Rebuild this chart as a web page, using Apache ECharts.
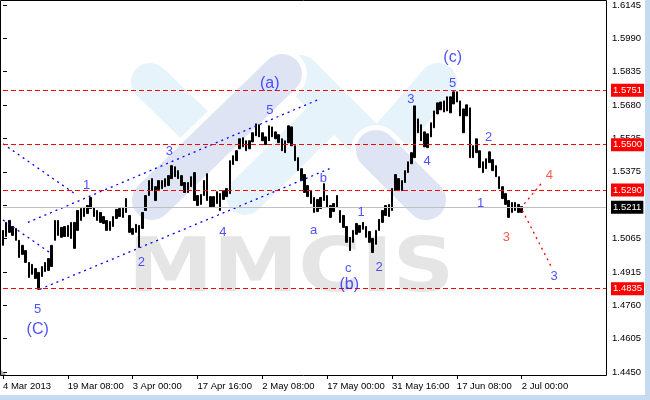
<!DOCTYPE html>
<html><head><meta charset="utf-8">
<script src="https://cdn.jsdelivr.net/npm/echarts@6/dist/echarts.min.js"></script>
<style>html,body{margin:0;padding:0;background:#fff}#c{width:650px;height:400px}</style>
</head><body><div id="c"></div>
<script>
// x-axis tick labels (one every 20 bar slots)
const tickLabels = ['4 Mar 2013','19 Mar 08:00','3 Apr 00:00','17 Apr 16:00','2 May 08:00','17 May 00:00','31 May 16:00','17 Jun 08:00','2 Jul 00:00'];
// right price-axis tick labels
const yTickLabels = ['1.4450','1.4605','1.4760','1.4915','1.5065','1.5220','1.5375','1.5525','1.5680','1.5835','1.5990','1.6145'];
const slotCount = 187;
// bar lows / highs
const lows = [1.5035,1.5076,1.5095,1.5081,1.5058,1.4979,1.4993,1.4956,1.4887,1.4901,1.4882,1.4832,1.4891,1.4914,1.4919,1.4937,1.5058,1.5081,1.5072,1.5076,
1.5076,1.5067,1.5021,1.5104,1.5150,1.5168,1.5182,1.5205,1.5168,1.5150,1.5141,1.5136,1.5104,1.5104,1.5122,1.5159,1.5168,1.5164,1.5187,1.5095,
1.5086,1.5095,1.5026,1.5113,1.5196,1.5265,1.5288,1.5242,1.5293,1.5297,1.5306,1.5311,1.5343,1.5352,1.5343,1.5311,1.5279,1.5279,1.5306,1.5242,
1.5219,1.5224,1.5265,1.5242,1.5210,1.5214,1.5228,1.5196,1.5247,1.5260,1.5274,1.5408,1.5426,1.5481,1.5490,1.5472,1.5481,1.5513,1.5541,1.5536,
1.5518,1.5500,1.5518,1.5536,1.5527,1.5509,1.5472,1.5463,1.5509,1.5495,1.5426,1.5380,1.5334,1.5279,1.5260,1.5228,1.5187,1.5191,1.5205,1.5242,
1.5210,1.5164,1.5191,1.5210,1.5141,1.5118,1.5049,1.5011,1.5049,1.5086,1.5095,1.5109,1.5072,1.5049,1.5002,1.5040,1.5104,1.5141,1.5173,1.5168,
1.5196,1.5288,1.5288,1.5288,1.5325,1.5371,1.5412,1.5440,1.5555,1.5518,1.5490,1.5486,1.5536,1.5578,1.5642,1.5661,1.5651,1.5656,1.5647,1.5688,
1.5697,1.5633,1.5555,1.5633,1.5440,1.5440,1.5463,1.5394,1.5371,1.5389,1.5417,1.5380,1.5352,1.5297,1.5251,1.5224,1.5164,1.5187,1.5196,1.5187,1.5187];
const highs = [1.5104,1.5141,1.5150,1.5122,1.5113,1.5058,1.5035,1.5011,1.4956,1.4947,1.4928,1.4910,1.4937,1.4956,1.4974,1.5035,1.5150,1.5150,1.5118,1.5122,
1.5127,1.5141,1.5141,1.5196,1.5205,1.5210,1.5219,1.5256,1.5210,1.5196,1.5187,1.5168,1.5150,1.5145,1.5168,1.5201,1.5205,1.5210,1.5251,1.5173,
1.5113,1.5132,1.5127,1.5187,1.5265,1.5334,1.5343,1.5306,1.5334,1.5334,1.5343,1.5357,1.5403,1.5398,1.5380,1.5357,1.5325,1.5325,1.5352,1.5371,
1.5265,1.5270,1.5334,1.5366,1.5260,1.5260,1.5283,1.5274,1.5288,1.5297,1.5426,1.5449,1.5472,1.5527,1.5532,1.5518,1.5518,1.5555,1.5596,1.5592,
1.5555,1.5536,1.5587,1.5582,1.5559,1.5546,1.5527,1.5518,1.5587,1.5582,1.5495,1.5440,1.5389,1.5362,1.5311,1.5288,1.5256,1.5247,1.5256,1.5320,
1.5265,1.5219,1.5228,1.5265,1.5196,1.5173,1.5122,1.5072,1.5104,1.5136,1.5127,1.5141,1.5122,1.5099,1.5067,1.5104,1.5155,1.5196,1.5219,1.5224,
1.5297,1.5362,1.5343,1.5334,1.5380,1.5421,1.5463,1.5679,1.5619,1.5592,1.5559,1.5550,1.5601,1.5656,1.5693,1.5697,1.5702,1.5721,1.5721,1.5744,
1.5744,1.5702,1.5665,1.5684,1.5670,1.5495,1.5527,1.5472,1.5421,1.5435,1.5467,1.5431,1.5403,1.5352,1.5306,1.5274,1.5242,1.5233,1.5233,1.5224,1.5214];
// horizontal levels
const levels = [1.5751, 1.5500, 1.5290, 1.4835];
const lastPrice = 1.5211;
// trend lines [slotFrom, priceFrom, slotTo, priceTo, color]
const trendLines = [
  [7.67, 1.5141, 97.9, 1.5712, '#0000ff'],
  [11.36, 1.4832, 100.7, 1.5389, '#0000ff'],
  [0, 1.5504, 22.1, 1.5274, '#0000ff'],
  [0, 1.5152, 14.4, 1.5002, '#0000ff'],
  [159.6, 1.5205, 166.0, 1.5320, '#ff0000'],
  [160.2, 1.5196, 169.4, 1.4928, '#ff0000']
];
// wave labels [text, slot, price, colorKey, big]
const waveLabels = [
  ['1',25.8,1.5311,'b',0],['2',42.7,1.4956,'b',0],['3',51.3,1.5467,'b',0],['4',67.8,1.5095,'b',0],
  ['5',82.3,1.5656,'b',0],['(a)',82.3,1.5781,'b',1],['5',10.7,1.4740,'b',0],['(C)',10.7,1.4647,'b',1],
  ['b',98.8,1.5343,'b',0],['a',95.8,1.5104,'b',0],['c',106.5,1.4928,'b',0],['(b)',106.8,1.4855,'b',1],
  ['1',110.5,1.5187,'b',0],['2',116.0,1.4933,'b',0],['3',125.8,1.5707,'b',0],['4',130.8,1.5421,'b',0],
  ['(c)',138.7,1.5900,'b',1],['5',138.7,1.5785,'b',0],['2',149.8,1.5532,'b',0],['1',147.3,1.5228,'b',0],
  ['3',155.3,1.5072,'r',0],['4',168.5,1.5357,'r',0],['3',170.0,1.4891,'b',0]
];

const FONT = "'Liberation Sans',Arial,sans-serif";
const FS = 9.5;
const categories = Array.from({length: slotCount}, (_, i) => (i % 20 === 0 && tickLabels[i / 20]) ? tickLabels[i / 20] : 's' + i);
const showTick = (i) => i % 20 === 0 && i / 20 < tickLabels.length;
const yInterval = (1.6145 - 1.4450) / 11;
const candleData = lows.map((l, i) => [l, highs[i], l, highs[i]]);

const series = [{
  type: 'line', xAxisIndex: 1, yAxisIndex: 0, data: [], silent: true, z: 2,
  markLine: {
    silent: true, symbol: ['none', 'none'], animation: false, precision: 4,
    label: {show: true, position: 'end', color: '#fff', fontFamily: FONT, fontSize: FS, padding: [2, 2, 1, 2], distance: 5},
    data: levels.map(v => ({yAxis: v, lineStyle: {color: '#ff0000', type: [5, 3], width: 1},
        label: {formatter: v.toFixed(4), backgroundColor: '#ff0000'}}))
      .concat([{yAxis: lastPrice, lineStyle: {color: '#c0c0c0', type: 'solid', width: 1},
        label: {formatter: lastPrice.toFixed(4), backgroundColor: '#000'}}])
  }
}, {
  type: 'candlestick', xAxisIndex: 0, yAxisIndex: 0, data: candleData, barWidth: 2,
  itemStyle: {color: '#000', color0: '#000', borderColor: '#000', borderColor0: '#000', borderWidth: 1},
  silent: true, z: 3
}];
trendLines.forEach(t => series.push({
  type: 'line', xAxisIndex: 1, yAxisIndex: 0, data: [[t[0], t[1]], [t[2], t[3]]], symbol: 'none', silent: true,
  lineStyle: {color: t[4], width: 1.3, type: [2, 4]}, z: 4
}));
series.push({
  type: 'scatter', xAxisIndex: 1, yAxisIndex: 0, symbolSize: 0, silent: true, z: 5,
  data: waveLabels.map(w => ({name: w[0], value: [w[1], w[2]],
    label: {color: w[3] === 'r' ? '#ff3020' : '#2424ff', fontSize: w[4] ? 16 : 13}})),
  label: {show: true, position: 'inside', formatter: '{b}', fontFamily: 'Liberation Sans, Arial, sans-serif'}
});

// watermark logo stripes (decoration)
const wmBlue = '#e6f3fa', wmLav = '#dfe4f5';
const stripe = (pts, color, w) => ({type: 'polyline', z: 0, silent: true, shape: {points: pts},
  style: {stroke: color, lineWidth: w, lineCap: 'round', lineJoin: 'round', fill: null}});
const wm = [
  stripe([[150,82],[205,135]], wmBlue, 38),
  stripe([[300,74],[365,139]], wmBlue, 38),
  stripe([[245,196],[330,112]], wmBlue, 38),
  stripe([[386,142],[438,82]], wmBlue, 38),
  stripe([[152,200],[282,74]], '#ffffff', 50),
  stripe([[152,200],[282,74]], wmLav, 40),
  stripe([[376,150],[426,200]], '#ffffff', 50),
  stripe([[376,150],[426,200]], wmLav, 40)
];

const option = {
  backgroundColor: '#fff', animation: false,
  grid: {left: 0, right: 44, top: 4, bottom: 28, containLabel: false},
  xAxis: [{
    type: 'category', data: categories, boundaryGap: false, offset: 3,
    axisLine: {show: false},
    axisTick: {show: true, interval: showTick, length: 4, lineStyle: {color: '#000'}},
    axisLabel: {interval: showTick, align: 'left', margin: 6, color: '#000', fontFamily: FONT, fontSize: FS},
    splitLine: {show: false}
  }, {
    type: 'value', min: 0, max: slotCount - 1, show: false
  }],
  yAxis: [{
    type: 'value', position: 'right', min: 1.4450, max: 1.6145, interval: yInterval,
    axisLine: {show: false},
    axisTick: {show: true, length: 4, lineStyle: {color: '#000'}},
    axisLabel: {margin: 6, color: '#000', fontFamily: FONT, fontSize: FS,
      formatter: v => yTickLabels[Math.round((v - 1.4450) / yInterval)] || ''},
    splitLine: {show: false}
  }],
  graphic: wm.concat([
    {type: 'text', z: 0, silent: true, x: 128, y: 272, scaleX: 1.14,
      style: {text: 'MMCIS', font: 'bold 75px "DejaVu Sans"', fill: '#e5e5e5', verticalAlign: 'middle', align: 'left'}},
    {type: 'rect', z: 10, silent: true, shape: {x: 0.5, y: 0.5, width: 606, height: 375}, style: {stroke: '#000', fill: null, lineWidth: 1}},
    {type: 'polygon', z: 10, silent: true, shape: {points: [[1,370],[1,375],[6,375]]}, style: {fill: '#a8a8a8'}},
    {type: 'rect', z: 10, silent: true, shape: {x: 645, y: 0, width: 5, height: 400}, style: {fill: '#c5dbf2'}},
    {type: 'rect', z: 10, silent: true, shape: {x: 0, y: 395, width: 650, height: 5}, style: {fill: '#c5dbf2'}}
  ]),
  series: series
};
const chart = echarts.init(document.getElementById('c'));
chart.setOption(option);
</script></body></html>
